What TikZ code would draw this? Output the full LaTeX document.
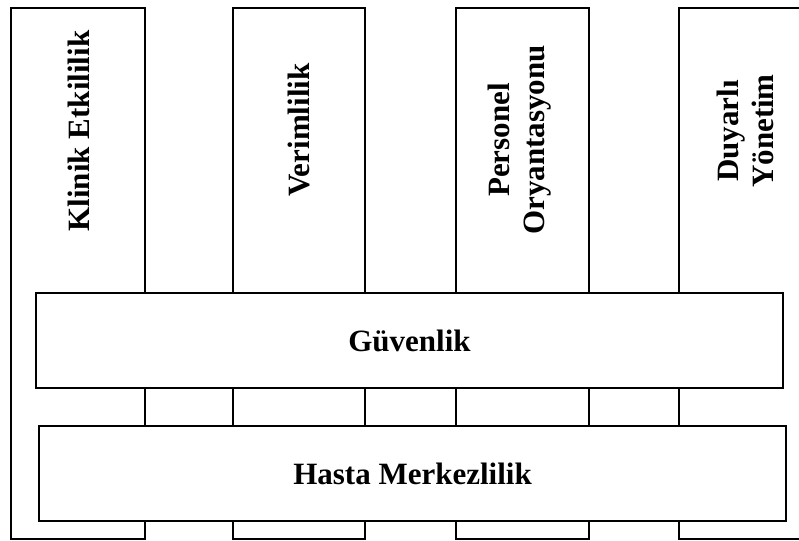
\documentclass[tikz,border=0pt]{standalone}
\usepackage{fontspec}
\setmainfont{Liberation Serif}
\begin{document}
\begin{tikzpicture}[x=1pt,y=-1pt,
  frame/.style={draw=black,line width=2pt,fill=white,inner sep=0pt,anchor=north west},
  label/.style={font=\fontsize{31}{35}\selectfont\bfseries,inner sep=0pt,align=center}]
\clip (0,0) rectangle (799,540);
\useasboundingbox (0,0) rectangle (799,540);
% four pillars
\node[frame,minimum width=134pt,minimum height=531pt] (p1) at (10,7) {};
\node[frame,minimum width=132pt,minimum height=531pt] (p2) at (232,7) {};
\node[frame,minimum width=133pt,minimum height=531pt] (p3) at (455,7) {};
\node[frame,minimum width=137pt,minimum height=531pt] (p4) at (678,7) {};
% pillar titles, reading upward
\node[label,rotate=90] (t1) at (79,131) {Klinik Etkililik};
\node[label,rotate=90] (t2) at (299,130) {Verimlilik};
\node[label,rotate=90] (t3) at (520,140) {Personel\\Oryantasyonu};
\node[label,rotate=90] (t4) at (745,131) {Duyarlı\\Yönetim};
% cross beams laid over the pillars
\node[frame,minimum width=747pt,minimum height=95pt] (b1) at (35,292) {};
\node[label] (g) at (b1.center) {Güvenlik};
\node[frame,minimum width=747pt,minimum height=95pt] (b2) at (38,425) {};
\node[label] (h) at (b2.center) {Hasta Merkezlilik};
\end{tikzpicture}
\end{document}
